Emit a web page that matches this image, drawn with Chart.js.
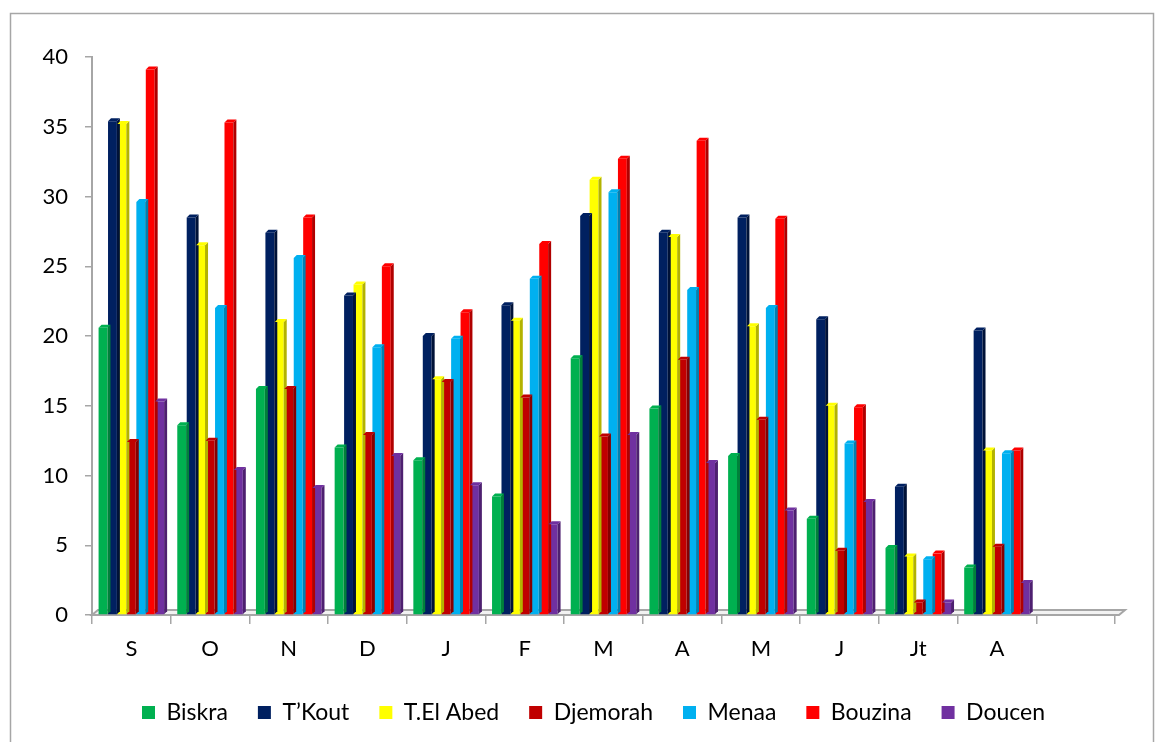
<!DOCTYPE html>
<html>
<head>
<meta charset="utf-8">
<script src="https://cdn.jsdelivr.net/npm/chart.js@4"></script>
<style>
  html, body { margin: 0; padding: 0; background: #fff; }
  #wrap { width: 1157px; height: 742px; position: relative; }
</style>
</head>
<body>
<div id="wrap"><canvas id="myChart" width="1157" height="742"></canvas></div>
<script>
// months (last slot left empty on purpose)
const mois = ['S', 'O', 'N', 'D', 'J', 'F', 'M', 'A', 'M', 'J', 'Jt', 'A', '']
const yTicks = [0, 5, 10, 15, 20, 25, 30, 35, 40]

const biskra   = [20.6, 13.6, 16.2, 12.0, 11.1, 8.5, 18.4, 14.8, 11.4, 6.9, 4.8, 3.4]
const tkout    = [35.4, 28.5, 27.4, 22.9, 20.0, 22.2, 28.6, 27.4, 28.5, 21.2, 9.2, 20.4]
const elAbed   = [35.2, 26.5, 21.0, 23.7, 16.9, 21.1, 31.2, 27.1, 20.7, 15.0, 4.2, 11.8]
const djemorah = [12.4, 12.5, 16.2, 12.9, 16.7, 15.6, 12.8, 18.3, 14.0, 4.6, 0.9, 4.9]
const menaa    = [29.6, 22.0, 25.6, 19.2, 19.8, 24.1, 30.3, 23.3, 22.0, 12.3, 4.0, 11.6]
const bouzina  = [39.1, 35.3, 28.5, 25.0, 21.7, 26.6, 32.7, 34.0, 28.4, 14.9, 4.4, 11.8]
const doucen   = [15.3, 10.4, 9.1, 11.4, 9.3, 6.5, 12.9, 10.9, 7.5, 8.1, 0.9, 2.3]

const series = [
    { label: 'Biskra', data: biskra, color: '#00b050', side: '#00803a' },
    { label: 'T\u2019Kout', data: tkout, color: '#002060', side: '#001238' },
    { label: 'T.El Abed', data: elAbed, color: '#ffff00', side: '#b3b300' },
    { label: 'Djemorah', data: djemorah, color: '#c00000', side: '#860000' },
    { label: 'Menaa', data: menaa, color: '#00b0f0', side: '#0080b0' },
    { label: 'Bouzina', data: bouzina, color: '#ff0000', side: '#b00000' },
    { label: 'Doucen', data: doucen, color: '#7030a0', side: '#4e2070' }
]

const FONT = 'Lato, "Open Sans", sans-serif'
const DEPTH = 3

// frame around the whole chart
const frame = {
    id: 'frame',
    beforeDraw(chart) {
        const ctx = chart.ctx
        ctx.save()
        ctx.fillStyle = '#fff'
        ctx.fillRect(0, 0, chart.width, chart.height)
        ctx.strokeStyle = '#a6a6a6'
        ctx.lineWidth = 1.5
        ctx.strokeRect(10.5, 13.5, chart.width - 14, chart.height - 10)
        ctx.restore()
    }
}

// legend sits centred under the plot area rather than the canvas
const legendShift = {
    id: 'legendShift',
    afterLayout(chart) {
        const lg = chart.legend
        if (!lg) return
        const dx = (chart.chartArea.left + chart.chartArea.right) / 2 - (lg.left + lg.right) / 2 - 10
        lg.left += dx
        lg.right += dx
    }
}

// fake 3d: floor, side and top faces of the bars
const depth = {
    id: 'depth',
    beforeDatasetsDraw(chart) {
        const { ctx, chartArea } = chart
        const b = chartArea.bottom
        ctx.save()
        ctx.fillStyle = '#f2f2f2'
        ctx.strokeStyle = '#a6a6a6'
        ctx.lineWidth = 2
        ctx.beginPath()
        ctx.moveTo(chartArea.left, b)
        ctx.lineTo(chartArea.right + 4, b)
        ctx.lineTo(chartArea.right + 10, b - 5)
        ctx.lineTo(chartArea.left + 6, b - 5)
        ctx.closePath()
        ctx.fill()
        ctx.stroke()
        ctx.restore()
    },
    afterDatasetsDraw(chart) {
        const ctx = chart.ctx
        ctx.save()
        chart.data.datasets.forEach((ds, i) => {
            const meta = chart.getDatasetMeta(i)
            meta.data.forEach(bar => {
                const { x, y, base, width } = bar.getProps(['x', 'y', 'base', 'width'], true)
                if (isNaN(y)) return
                const r = x + width / 2
                const l = x - width / 2
                ctx.fillStyle = ds.sideColor
                ctx.beginPath()
                ctx.moveTo(r, y)
                ctx.lineTo(r + DEPTH, y - DEPTH)
                ctx.lineTo(r + DEPTH, base - DEPTH)
                ctx.lineTo(r, base)
                ctx.closePath()
                ctx.fill()
                ctx.fillStyle = ds.backgroundColor
                ctx.beginPath()
                ctx.moveTo(l, y)
                ctx.lineTo(l + DEPTH, y - DEPTH)
                ctx.lineTo(r + DEPTH, y - DEPTH)
                ctx.lineTo(r, y)
                ctx.closePath()
                ctx.fill()
            })
        })
        ctx.restore()
    }
}

const ctx = document.getElementById('myChart')
const myChart = new Chart(ctx, {
    type: 'bar',
    data: {
        labels: mois,
        datasets: series.map(s => ({
            label: s.label,
            data: s.data,
            backgroundColor: s.color,
            sideColor: s.side,
            borderWidth: 0,
            categoryPercentage: 0.84,
            barPercentage: 0.94
        }))
    },
    options: {
        responsive: false,
        animation: false,
        layout: { padding: { left: 20, right: 42, top: 57, bottom: 8 } },
        plugins: {
            tooltip: { enabled: false },
            legend: {
                position: 'bottom',
                labels: {
                    boxWidth: 13,
                    boxHeight: 13,
                    padding: 30,
                    color: '#000',
                    font: { family: FONT, size: 23 }
                }
            }
        },
        scales: {
            x: {
                grid: {
                    offset: true,
                    drawOnChartArea: false,
                    tickLength: 9,
                    color: '#a6a6a6',
                    lineWidth: 1.5
                },
                border: { color: '#a6a6a6', width: 2 },
                ticks: {
                    color: '#000',
                    padding: 12,
                    font: { family: FONT, size: 22 }
                },
                afterFit: scale => { scale.height = 56 }
            },
            y: {
                min: 0,
                max: 40,
                afterBuildTicks: scale => { scale.ticks = yTicks.map(v => ({ value: v })) },
                grid: {
                    drawOnChartArea: false,
                    tickLength: 7,
                    color: '#a6a6a6',
                    lineWidth: 1.5
                },
                border: { color: '#a6a6a6', width: 2 },
                ticks: {
                    color: '#000',
                    padding: 17,
                    font: { family: FONT, size: 22 }
                },
                afterFit: scale => { scale.width = 72 }
            }
        }
    },
    plugins: [frame, legendShift, depth]
});
</script>
</body>
</html>
